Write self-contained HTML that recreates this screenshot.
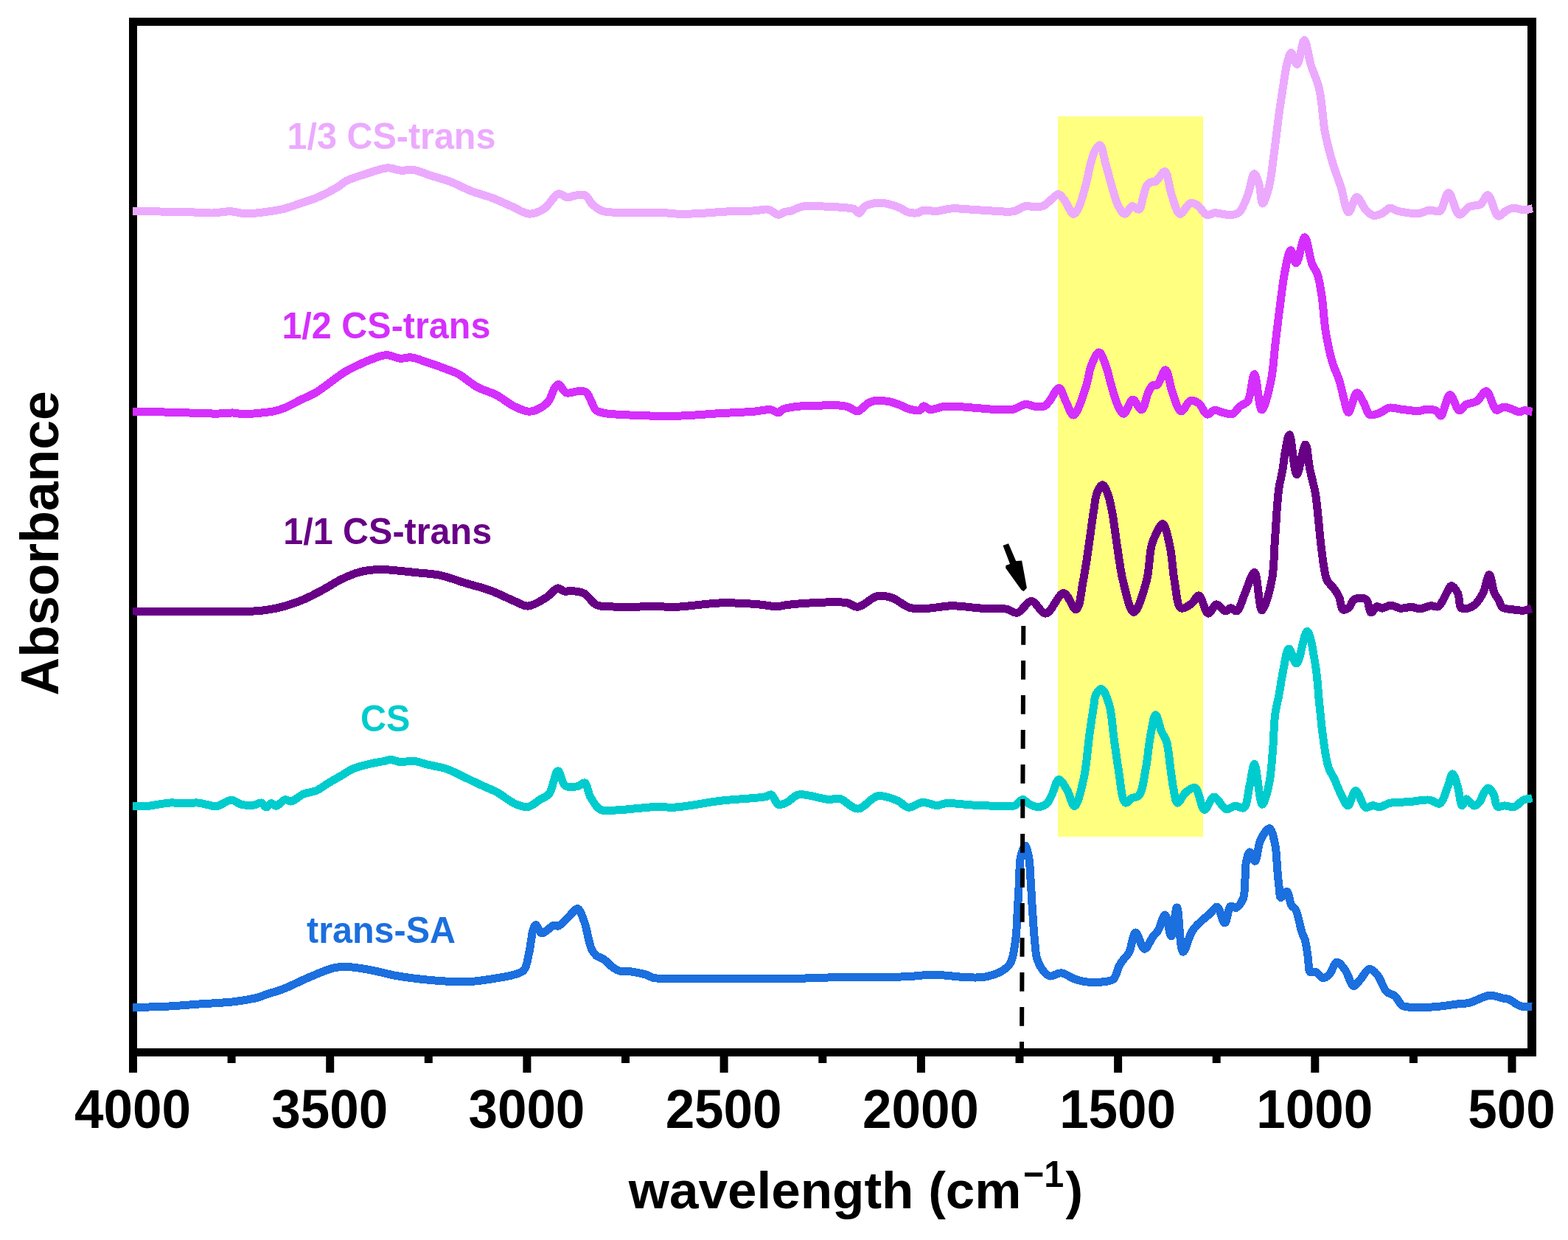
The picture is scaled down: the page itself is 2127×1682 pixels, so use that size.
<!DOCTYPE html>
<html><head><meta charset="utf-8"><title>FTIR spectra</title>
<style>html,body{margin:0;padding:0;background:#fff;}svg{display:block;}</style>
</head><body>
<svg width="2127" height="1682" viewBox="0 0 2127 1682">
<rect x="0" y="0" width="2127" height="1682" fill="#ffffff"/>
<rect x="1435" y="158" width="197" height="977" fill="#FFFF80"/>
<rect x="175" y="24" width="11" height="1431" fill="#000"/>
<rect x="175" y="24" width="1909" height="11" fill="#000"/>
<rect x="2072" y="24" width="12" height="1409" fill="#000"/>
<rect x="175" y="1422" width="1909" height="11" fill="#000"/>
<path fill="none" stroke="#ECAAFE" stroke-width="11" stroke-linejoin="round" stroke-linecap="butt" shape-rendering="crispEdges" d="M180.0,286.4 C192.3,286.6 204.8,286.8 217.0,287.0 C229.0,287.2 240.8,287.2 252.6,287.5 C264.4,287.8 277.0,289.2 287.8,289.0 C297.0,288.8 305.6,286.5 313.2,286.8 C319.4,287.0 325.1,289.2 330.0,289.6 C333.7,289.9 336.2,289.8 340.0,289.6 C345.1,289.3 351.5,288.7 358.0,287.8 C365.8,286.8 375.4,285.6 383.7,283.6 C391.9,281.6 400.0,278.4 407.7,275.8 C415.0,273.4 421.4,271.6 428.9,268.5 C437.7,264.8 449.5,258.8 457.0,254.4 C462.3,251.3 464.6,248.2 470.0,245.4 C477.4,241.6 488.7,238.2 498.2,235.3 C507.5,232.4 518.2,228.1 526.4,227.8 C532.7,227.6 537.5,230.7 543.3,231.2 C549.3,231.7 555.4,229.7 561.7,230.6 C568.6,231.6 575.2,235.2 582.8,237.7 C591.5,240.5 601.7,243.0 611.0,246.5 C620.5,250.1 629.8,255.5 639.3,259.2 C648.6,262.8 658.2,264.9 667.5,268.4 C677.0,272.0 686.8,276.9 695.7,280.7 C703.6,284.1 710.9,289.9 718.2,290.1 C725.0,290.3 731.8,287.1 738.0,283.2 C745.2,278.6 751.5,264.3 757.7,263.0 C762.0,262.1 766.2,267.8 770.0,268.0 C773.1,268.2 775.4,265.9 778.8,265.4 C783.1,264.7 789.8,263.1 793.9,265.0 C798.0,266.9 799.6,273.5 803.3,277.0 C807.1,280.5 811.4,284.0 816.4,285.9 C821.9,288.0 827.0,287.8 835.2,288.3 C850.5,289.3 885.7,288.0 901.0,288.7 C909.2,289.1 913.0,290.0 919.9,290.2 C928.3,290.4 938.0,290.1 948.0,289.6 C959.7,289.1 973.1,287.6 985.7,287.0 C998.2,286.4 1012.9,286.5 1023.3,285.9 C1030.6,285.5 1036.3,283.1 1042.0,284.2 C1047.2,285.2 1052.1,291.2 1056.2,291.3 C1059.4,291.4 1061.9,288.2 1064.7,287.4 C1067.2,286.7 1069.3,287.1 1072.2,286.4 C1076.7,285.2 1082.5,281.2 1089.0,280.0 C1097.1,278.5 1107.9,279.7 1117.3,280.0 C1126.7,280.3 1137.9,280.9 1145.5,281.7 C1150.7,282.2 1155.0,282.1 1158.5,283.6 C1161.4,284.9 1163.3,289.4 1165.5,289.2 C1168.0,288.9 1169.3,282.6 1172.6,280.4 C1176.7,277.6 1184.1,275.9 1189.5,275.3 C1194.4,274.8 1198.7,275.4 1203.6,276.4 C1209.0,277.5 1215.5,279.7 1220.5,281.8 C1224.7,283.6 1227.7,286.7 1231.8,287.8 C1236.1,289.0 1242.3,289.3 1245.9,288.5 C1248.3,287.9 1249.0,285.9 1251.6,285.3 C1255.9,284.3 1263.6,286.7 1269.9,286.4 C1276.7,286.0 1283.4,283.3 1291.0,282.9 C1299.7,282.4 1309.9,283.8 1319.3,284.3 C1328.7,284.8 1338.1,285.7 1347.5,286.1 C1356.9,286.5 1368.1,288.2 1375.7,286.6 C1381.4,285.4 1385.0,281.0 1389.8,280.0 C1394.4,279.1 1399.5,280.6 1403.9,280.5 C1407.9,280.4 1411.8,280.8 1415.2,279.4 C1418.8,277.9 1421.6,274.2 1425.0,271.6 C1428.5,268.9 1432.7,263.3 1436.0,263.6 C1439.0,263.8 1441.3,268.3 1444.1,271.7 C1448.0,276.5 1452.5,290.1 1456.1,290.3 C1458.6,290.5 1460.8,285.9 1463.0,282.0 C1466.8,275.1 1470.2,260.8 1473.0,250.5 C1475.6,240.9 1477.1,230.5 1479.4,222.3 C1481.2,215.8 1482.5,209.5 1485.0,205.0 C1486.9,201.5 1489.9,196.4 1492.0,196.8 C1495.3,197.5 1497.3,213.6 1499.8,222.3 C1502.5,231.4 1504.8,241.1 1507.6,250.5 C1510.4,259.9 1512.9,271.6 1516.7,278.7 C1519.4,283.7 1522.7,290.1 1525.9,290.2 C1529.1,290.3 1532.3,280.3 1535.8,279.7 C1538.7,279.2 1542.6,285.2 1545.0,284.2 C1548.3,282.8 1549.1,271.8 1551.0,266.0 C1552.7,260.8 1553.6,254.2 1556.0,251.0 C1557.6,248.8 1560.0,247.7 1562.0,247.0 C1563.7,246.4 1565.4,247.3 1567.0,246.5 C1569.1,245.4 1570.9,242.2 1573.0,240.0 C1575.3,237.6 1578.0,232.0 1580.2,232.5 C1584.1,233.5 1585.8,254.6 1589.4,264.6 C1592.7,273.7 1596.0,289.4 1600.7,290.2 C1604.7,290.9 1610.2,276.7 1614.8,275.5 C1618.1,274.7 1621.4,276.6 1624.6,278.6 C1628.9,281.3 1633.0,290.6 1637.3,291.8 C1640.5,292.7 1643.2,289.2 1647.2,288.9 C1653.2,288.4 1663.6,292.2 1669.8,291.6 C1674.2,291.2 1677.7,290.7 1681.0,287.9 C1685.9,283.7 1689.3,272.9 1692.6,264.6 C1696.2,255.6 1698.5,235.8 1701.5,235.6 C1703.7,235.5 1706.3,244.7 1708.1,250.5 C1710.3,257.8 1710.5,275.9 1712.8,276.1 C1715.0,276.3 1719.1,262.2 1721.5,253.2 C1724.7,240.9 1726.0,224.5 1728.2,208.6 C1730.7,190.2 1734.0,161.1 1735.7,149.2 C1736.4,144.0 1736.7,142.6 1737.4,138.1 C1738.5,131.1 1740.1,120.0 1741.5,111.3 C1742.8,103.2 1743.7,94.7 1745.6,87.6 C1747.2,81.6 1749.2,71.6 1751.5,71.5 C1753.8,71.4 1757.0,87.5 1759.5,87.3 C1763.0,87.0 1766.2,54.3 1769.3,54.4 C1772.4,54.5 1775.4,79.4 1778.0,87.6 C1779.6,92.6 1780.8,95.1 1782.4,99.5 C1784.3,104.8 1787.2,111.1 1788.8,117.3 C1790.5,123.9 1791.2,130.0 1792.4,138.1 C1794.1,149.4 1794.7,165.1 1797.3,178.9 C1800.0,193.5 1804.5,210.1 1808.5,223.4 C1811.8,234.4 1815.5,242.9 1818.9,253.2 C1822.5,264.3 1825.2,287.4 1829.3,287.8 C1832.6,288.1 1836.4,267.8 1840.4,267.6 C1844.3,267.4 1848.6,280.8 1853.0,285.1 C1856.4,288.4 1859.7,291.9 1863.4,292.5 C1867.1,293.1 1871.6,290.8 1875.3,289.1 C1879.0,287.4 1882.3,282.5 1885.7,282.1 C1888.7,281.8 1891.3,284.8 1894.8,285.8 C1899.1,287.1 1904.6,288.0 1909.6,288.7 C1914.5,289.3 1919.5,290.3 1924.4,289.7 C1929.4,289.1 1934.3,285.5 1939.2,285.0 C1943.8,284.5 1949.1,288.6 1953.0,286.5 C1958.4,283.5 1960.7,261.7 1964.9,261.7 C1969.5,261.7 1974.0,289.8 1979.7,291.1 C1983.9,292.0 1988.5,282.6 1993.5,280.3 C1998.1,278.1 2004.2,279.6 2008.3,277.1 C2012.5,274.5 2014.9,264.3 2018.2,264.6 C2022.9,265.1 2027.3,291.7 2032.5,293.1 C2035.8,294.0 2039.4,287.9 2042.9,286.0 C2046.1,284.3 2049.1,282.5 2052.8,282.2 C2057.2,281.8 2063.0,285.0 2067.6,285.0 C2071.6,285.0 2075.1,283.5 2078.9,282.7"/>
<path fill="none" stroke="#D52FFD" stroke-width="11" stroke-linejoin="round" stroke-linecap="butt" shape-rendering="crispEdges" d="M180.2,558.6 C192.6,558.7 204.5,558.7 217.3,558.9 C230.9,559.1 246.1,559.7 259.6,560.1 C271.9,560.4 284.6,561.2 294.9,561.1 C302.8,561.0 309.7,559.8 316.0,560.0 C321.2,560.2 324.9,561.7 330.1,561.8 C336.4,562.0 344.2,561.0 351.3,560.3 C358.4,559.6 366.2,559.0 372.5,557.6 C377.7,556.4 381.5,555.2 386.6,553.1 C393.0,550.5 400.6,546.0 407.7,542.5 C414.7,539.0 421.5,536.6 428.9,532.2 C437.9,526.8 449.5,517.1 457.1,511.8 C462.2,508.3 465.3,505.9 470.0,503.2 C475.2,500.2 481.2,497.3 486.9,494.7 C492.5,492.1 497.9,489.5 503.9,487.4 C510.3,485.1 517.6,481.8 524.2,481.7 C530.5,481.6 536.9,485.7 542.8,486.2 C548.1,486.6 552.5,484.3 558.0,484.9 C564.7,485.6 572.4,489.2 580.0,491.7 C588.2,494.4 597.8,497.7 605.4,500.6 C611.6,503.0 616.3,504.4 622.3,507.7 C630.1,512.0 639.0,520.5 647.7,525.2 C655.9,529.7 664.8,531.4 673.1,535.7 C681.8,540.2 690.3,547.9 698.5,551.7 C705.4,554.9 712.2,558.5 718.8,558.2 C725.2,558.0 732.8,553.7 737.4,550.6 C740.8,548.4 742.8,546.3 745.0,543.0 C747.8,538.8 749.4,530.8 752.0,527.0 C753.8,524.4 755.6,521.3 757.7,521.4 C760.7,521.5 763.7,531.2 767.9,532.8 C772.1,534.4 778.3,531.0 783.1,530.9 C787.3,530.8 791.9,529.9 795.0,531.9 C798.3,534.0 799.6,539.7 801.8,543.8 C804.1,547.9 805.3,553.7 808.5,556.5 C811.5,559.0 815.1,559.4 820.0,560.4 C828.2,562.1 840.7,562.4 853.9,563.0 C872.6,563.9 900.7,564.6 921.6,564.1 C939.7,563.7 955.4,561.9 972.3,560.9 C989.2,559.9 1009.7,559.3 1023.1,558.2 C1032.0,557.5 1039.1,555.0 1045.1,555.7 C1049.5,556.2 1053.1,560.2 1056.1,559.7 C1058.5,559.3 1059.2,556.4 1062.0,555.2 C1066.6,553.1 1075.2,552.1 1082.4,551.3 C1090.3,550.4 1099.0,550.5 1107.7,550.3 C1117.0,550.0 1128.7,549.3 1136.5,549.8 C1141.9,550.1 1145.6,550.5 1150.0,551.8 C1154.6,553.1 1159.2,558.2 1163.6,557.7 C1168.3,557.1 1172.7,549.8 1177.0,547.4 C1180.4,545.5 1183.0,544.1 1186.9,543.5 C1192.0,542.7 1199.6,543.6 1205.3,544.6 C1210.4,545.5 1214.7,547.1 1219.4,548.8 C1224.2,550.5 1228.7,553.6 1233.5,554.9 C1238.1,556.1 1244.2,557.8 1247.6,556.6 C1250.2,555.7 1251.0,551.1 1253.2,550.8 C1255.6,550.4 1258.2,555.1 1261.7,555.6 C1266.5,556.3 1274.0,552.3 1280.0,551.6 C1285.7,550.9 1290.6,551.2 1296.9,551.4 C1305.1,551.7 1315.7,552.8 1325.1,553.5 C1334.5,554.2 1344.7,555.4 1353.4,555.6 C1360.9,555.8 1368.0,556.5 1374.5,555.2 C1380.6,553.9 1386.3,548.7 1391.4,548.3 C1395.5,548.0 1398.7,550.6 1402.7,551.1 C1407.1,551.6 1413.1,552.6 1416.8,551.0 C1419.9,549.7 1421.3,546.7 1423.9,543.6 C1427.6,539.2 1432.9,526.2 1436.6,526.5 C1440.3,526.8 1442.7,538.9 1446.0,545.0 C1449.3,551.1 1452.6,563.3 1456.2,563.1 C1461.4,562.8 1469.0,536.6 1473.1,524.6 C1476.5,514.6 1476.9,504.6 1480.2,496.4 C1483.0,489.4 1487.4,477.8 1490.8,477.9 C1494.1,478.0 1497.5,489.4 1500.2,496.4 C1503.4,504.7 1505.1,515.2 1508.0,524.6 C1510.9,534.0 1514.0,546.4 1517.6,552.8 C1519.8,556.7 1522.1,561.4 1524.6,561.2 C1528.2,561.0 1532.4,542.4 1536.6,542.1 C1540.4,541.8 1545.2,556.4 1548.6,555.8 C1552.6,555.1 1554.7,537.7 1557.8,531.7 C1559.9,527.7 1561.7,523.8 1564.1,522.4 C1565.8,521.4 1567.9,523.3 1569.8,522.1 C1573.6,519.7 1577.8,501.6 1581.0,501.9 C1584.8,502.3 1586.6,522.2 1590.2,531.7 C1593.7,540.8 1597.5,557.2 1602.2,557.9 C1606.0,558.5 1610.4,544.7 1614.9,543.5 C1618.5,542.5 1622.8,544.8 1626.2,547.2 C1630.5,550.3 1633.5,561.3 1637.5,562.1 C1640.6,562.7 1643.8,556.9 1647.3,556.4 C1650.8,555.9 1654.7,558.6 1658.6,559.5 C1662.7,560.4 1667.5,562.8 1671.3,561.6 C1675.5,560.3 1678.8,553.7 1682.6,550.7 C1685.9,548.1 1689.8,548.2 1692.5,544.4 C1697.4,537.6 1698.6,507.5 1701.6,507.6 C1705.0,507.7 1707.6,555.7 1711.6,555.9 C1715.2,556.1 1721.1,530.6 1724.1,516.5 C1727.4,501.0 1728.0,483.2 1730.0,466.5 C1732.0,449.9 1733.9,433.2 1736.1,416.6 C1738.3,399.9 1740.4,380.6 1743.3,366.6 C1745.5,356.1 1748.0,339.8 1750.8,339.6 C1753.1,339.4 1755.7,357.0 1758.3,356.9 C1762.0,356.7 1766.3,321.6 1769.9,321.7 C1773.5,321.8 1776.3,349.3 1779.9,358.3 C1782.1,364.0 1785.0,366.2 1786.9,371.6 C1789.6,379.1 1791.1,389.1 1792.8,399.9 C1795.1,414.2 1795.7,434.1 1798.3,449.9 C1800.7,464.5 1803.8,479.5 1807.4,491.5 C1810.2,501.0 1814.3,508.1 1816.9,516.5 C1819.5,524.8 1821.0,533.9 1823.2,541.5 C1825.1,548.0 1826.6,559.2 1829.1,559.3 C1832.2,559.4 1836.7,533.2 1840.7,532.8 C1843.7,532.5 1847.0,541.7 1849.9,546.5 C1852.9,551.6 1854.2,560.6 1858.2,562.6 C1861.7,564.3 1867.2,561.6 1871.5,560.1 C1876.1,558.5 1880.1,553.9 1884.8,553.1 C1889.5,552.3 1894.1,554.4 1899.7,555.0 C1906.9,555.8 1918.0,557.9 1924.4,557.5 C1928.5,557.3 1930.7,555.4 1934.3,555.3 C1938.7,555.2 1945.6,555.7 1949.1,557.7 C1951.7,559.2 1952.6,564.4 1954.5,564.1 C1958.2,563.6 1962.4,535.9 1966.9,535.6 C1970.9,535.3 1975.4,556.3 1979.7,556.9 C1982.7,557.3 1985.0,551.0 1988.6,548.9 C1992.7,546.5 1999.0,546.9 2003.4,544.1 C2008.2,541.1 2012.2,530.2 2016.2,530.7 C2021.2,531.4 2024.9,554.4 2030.0,556.2 C2033.1,557.3 2036.3,552.2 2039.9,552.0 C2043.9,551.8 2049.0,554.5 2052.8,555.8 C2055.8,556.8 2058.1,558.8 2060.7,558.9 C2063.1,559.0 2065.0,557.0 2067.6,556.8 C2070.8,556.6 2074.8,557.9 2078.4,558.5"/>
<path fill="none" stroke="#680086" stroke-width="11" stroke-linejoin="round" stroke-linecap="butt" shape-rendering="crispEdges" d="M180.1,829.0 C206.6,829.1 232.7,829.4 259.6,829.4 C287.4,829.4 326.9,829.8 344.3,829.0 C352.1,828.6 355.0,828.4 361.2,827.5 C368.8,826.4 378.2,824.5 386.6,822.1 C395.1,819.7 403.6,816.7 412.0,813.1 C420.6,809.5 429.0,804.9 437.4,800.4 C445.9,795.9 454.1,790.1 462.7,786.0 C471.0,782.0 479.5,778.2 488.1,775.9 C496.4,773.7 505.9,772.8 513.5,772.5 C519.6,772.2 523.5,772.7 530.0,773.2 C539.3,773.9 552.6,775.4 563.9,776.6 C575.2,777.8 586.5,778.1 597.7,780.5 C609.1,782.9 620.3,787.6 631.6,791.0 C642.9,794.4 654.3,797.0 665.4,801.1 C676.8,805.3 689.9,812.2 699.3,816.0 C705.9,818.6 710.1,822.4 716.2,822.1 C723.9,821.7 734.4,814.6 741.6,810.1 C747.6,806.3 752.4,798.3 756.8,797.8 C759.8,797.5 762.0,801.3 765.0,802.0 C768.2,802.7 771.5,801.3 775.4,801.6 C780.4,802.0 787.1,802.3 792.4,805.0 C798.5,808.1 802.5,817.5 809.3,820.6 C816.5,823.8 825.6,822.7 834.7,823.1 C845.2,823.6 860.2,823.3 868.5,823.0 C873.3,822.8 875.1,822.2 880.0,822.1 C888.8,821.9 902.9,823.7 916.7,823.3 C934.5,822.8 958.6,818.4 977.8,817.9 C995.0,817.4 1012.7,818.6 1026.7,819.6 C1037.4,820.4 1047.6,823.0 1054.8,822.8 C1059.3,822.6 1061.1,821.4 1065.8,820.8 C1074.0,819.7 1087.6,818.5 1100.0,817.9 C1114.8,817.2 1137.5,815.6 1148.9,817.7 C1155.4,818.9 1158.1,823.7 1163.6,823.3 C1171.3,822.8 1182.0,810.0 1190.5,808.4 C1197.3,807.1 1203.4,808.8 1210.1,811.0 C1218.0,813.6 1226.1,822.2 1234.5,824.5 C1242.4,826.7 1250.3,825.5 1259.0,825.2 C1268.9,824.8 1279.5,821.9 1290.8,821.8 C1303.7,821.6 1319.2,824.5 1332.3,825.2 C1343.9,825.9 1356.7,824.6 1365.4,826.2 C1371.3,827.3 1374.9,832.1 1379.8,831.3 C1386.1,830.2 1392.8,815.5 1399.2,815.6 C1405.7,815.7 1412.1,832.6 1418.7,832.1 C1426.6,831.5 1435.6,804.4 1442.8,804.6 C1449.1,804.8 1455.5,827.7 1459.8,826.8 C1464.9,825.7 1466.5,802.2 1469.2,788.7 C1472.3,773.6 1474.5,756.6 1476.9,740.5 C1479.3,724.5 1481.5,705.7 1483.7,692.4 C1485.2,683.0 1485.6,674.5 1488.2,668.3 C1490.0,663.8 1493.1,657.7 1495.4,657.7 C1497.7,657.7 1500.1,663.6 1502.0,668.0 C1504.7,674.2 1506.3,682.8 1508.2,692.4 C1510.9,705.7 1512.9,724.5 1515.4,740.5 C1518.0,756.6 1519.6,773.4 1523.5,788.7 C1527.2,803.3 1532.7,830.3 1537.9,830.5 C1543.2,830.7 1551.1,803.4 1555.1,788.7 C1559.3,773.5 1559.0,752.1 1562.0,740.5 C1563.8,733.6 1565.4,729.5 1568.0,724.5 C1570.5,719.6 1574.4,710.3 1577.2,710.7 C1581.0,711.2 1584.3,729.2 1586.9,740.5 C1590.1,754.5 1590.5,773.8 1593.3,788.7 C1595.7,801.7 1596.5,822.1 1602.1,824.9 C1605.8,826.7 1612.5,821.4 1616.6,818.4 C1620.5,815.6 1623.1,807.4 1626.2,807.8 C1630.6,808.4 1634.4,831.5 1639.0,832.1 C1642.6,832.6 1646.3,820.2 1650.3,819.8 C1654.1,819.5 1658.7,828.7 1662.3,828.9 C1664.9,829.1 1667.0,824.8 1669.5,824.7 C1672.1,824.6 1675.1,829.8 1677.6,828.9 C1681.9,827.4 1685.0,813.1 1688.8,804.7 C1692.9,795.7 1698.0,776.1 1701.6,776.5 C1706.2,777.0 1707.7,827.8 1711.9,828.0 C1715.7,828.2 1722.4,801.2 1725.3,786.5 C1728.4,770.8 1728.0,753.2 1729.2,736.5 C1730.4,719.9 1731.4,700.4 1732.5,686.6 C1733.3,676.8 1733.8,669.9 1735.0,661.6 C1736.3,653.2 1738.6,645.0 1740.0,636.6 C1741.4,628.3 1742.0,619.6 1743.6,611.6 C1745.1,604.0 1747.1,589.6 1749.1,589.7 C1752.1,589.8 1755.2,643.4 1759.1,643.6 C1762.5,643.8 1767.8,602.8 1770.8,603.0 C1773.5,603.1 1774.6,625.4 1776.9,636.6 C1779.2,647.7 1782.5,658.7 1784.4,669.9 C1786.3,681.0 1787.1,692.1 1788.3,703.2 C1789.5,714.3 1790.3,725.4 1791.6,736.5 C1792.9,747.6 1794.4,760.6 1796.1,769.8 C1797.3,776.3 1797.5,781.6 1799.9,786.5 C1802.2,791.3 1807.0,794.9 1809.9,799.0 C1812.5,802.7 1814.7,805.8 1816.6,810.0 C1818.8,814.9 1818.6,825.3 1821.6,826.8 C1823.7,827.9 1827.5,825.9 1829.9,824.0 C1832.8,821.7 1833.5,814.9 1837.0,813.0 C1840.9,810.9 1849.2,810.4 1853.0,813.0 C1857.2,815.8 1857.0,830.4 1859.9,830.9 C1862.1,831.3 1864.6,823.5 1867.4,822.8 C1869.7,822.2 1872.1,825.1 1874.9,825.1 C1878.4,825.0 1882.5,821.2 1886.5,821.1 C1890.7,821.0 1895.1,824.8 1899.7,825.2 C1904.5,825.6 1909.9,823.2 1914.6,823.4 C1918.8,823.6 1922.3,825.9 1926.4,825.8 C1931.1,825.6 1936.7,822.1 1941.2,821.7 C1944.8,821.4 1948.1,824.2 1951.1,822.7 C1955.5,820.5 1959.1,809.5 1962.4,804.4 C1964.8,800.6 1966.4,794.8 1968.8,794.6 C1971.4,794.4 1975.2,800.2 1977.4,804.4 C1980.2,809.8 1978.6,822.5 1982.7,825.1 C1986.2,827.3 1993.9,824.8 1998.5,821.9 C2003.9,818.5 2008.3,811.1 2011.8,804.4 C2015.7,797.1 2017.6,779.5 2020.2,779.6 C2022.7,779.7 2024.4,798.2 2027.1,804.4 C2028.9,808.4 2031.2,810.6 2033.0,813.8 C2034.8,817.1 2035.2,821.7 2038.0,823.9 C2041.2,826.3 2047.0,826.1 2051.8,826.8 C2056.9,827.5 2063.0,828.6 2067.6,828.1 C2071.3,827.7 2074.1,826.2 2077.4,825.2"/>
<path fill="none" stroke="#00CCCD" stroke-width="11" stroke-linejoin="round" stroke-linecap="butt" shape-rendering="crispEdges" d="M180.1,1093.4 C186.9,1093.4 193.0,1093.8 200.4,1093.3 C209.6,1092.6 221.7,1089.4 230.9,1089.0 C238.3,1088.6 244.7,1089.9 251.2,1089.9 C257.1,1089.9 262.8,1088.6 268.1,1089.0 C272.9,1089.3 277.2,1090.8 281.6,1091.6 C285.7,1092.4 289.1,1094.3 293.5,1093.8 C299.5,1093.2 307.7,1085.3 313.8,1085.3 C318.8,1085.3 322.4,1090.0 327.3,1091.2 C332.5,1092.4 339.4,1092.7 344.3,1092.1 C348.2,1091.6 351.5,1088.4 354.4,1089.0 C357.1,1089.6 358.9,1094.9 361.2,1095.0 C363.4,1095.1 365.7,1089.8 368.0,1089.6 C370.2,1089.4 372.2,1093.4 374.7,1093.3 C378.2,1093.1 382.8,1085.5 386.6,1084.8 C389.5,1084.3 391.8,1087.4 395.0,1087.0 C399.8,1086.3 406.2,1079.3 412.0,1076.9 C417.5,1074.6 423.4,1074.9 428.9,1072.6 C434.7,1070.1 440.1,1065.4 445.8,1062.0 C451.4,1058.6 457.1,1055.5 462.7,1052.3 C468.4,1049.0 473.3,1045.2 479.7,1042.5 C487.1,1039.4 497.5,1037.2 505.1,1035.4 C511.3,1034.0 517.4,1033.2 522.0,1032.3 C525.2,1031.7 527.0,1030.5 530.0,1030.5 C533.9,1030.5 538.7,1033.4 543.5,1033.7 C548.8,1034.1 554.6,1031.7 560.5,1032.2 C567.0,1032.7 573.6,1035.6 580.8,1037.3 C588.8,1039.2 597.9,1040.3 606.2,1043.2 C614.8,1046.2 623.1,1051.0 631.6,1055.0 C640.0,1058.9 649.3,1063.4 656.9,1066.9 C663.1,1069.7 667.8,1071.2 673.9,1074.5 C681.7,1078.7 691.4,1087.3 699.3,1090.6 C705.3,1093.1 710.7,1095.4 716.2,1094.5 C722.0,1093.6 728.0,1087.5 733.1,1084.3 C737.4,1081.6 741.6,1080.9 745.0,1076.7 C750.2,1070.3 752.8,1046.0 756.8,1045.8 C760.1,1045.6 761.9,1062.8 767.0,1066.0 C771.4,1068.8 779.2,1067.5 783.9,1066.5 C787.6,1065.7 790.6,1060.9 793.2,1061.9 C796.8,1063.3 797.4,1074.9 800.8,1080.9 C804.4,1087.1 808.6,1095.2 814.4,1098.2 C820.0,1101.1 827.1,1099.2 834.7,1099.0 C844.5,1098.8 858.5,1097.0 868.5,1096.2 C876.5,1095.6 882.4,1094.7 890.0,1094.5 C898.4,1094.2 906.0,1095.7 916.7,1095.0 C932.9,1094.0 957.4,1088.6 977.8,1086.2 C998.1,1083.8 1028.5,1082.9 1038.9,1080.6 C1042.6,1079.8 1043.9,1077.3 1046.3,1078.0 C1049.7,1079.1 1052.0,1090.0 1056.0,1091.4 C1059.5,1092.6 1064.2,1089.8 1068.3,1087.9 C1073.1,1085.6 1076.4,1079.5 1082.9,1078.0 C1092.9,1075.8 1114.1,1084.1 1124.5,1084.5 C1130.6,1084.7 1133.9,1082.1 1139.2,1083.3 C1146.5,1084.9 1155.3,1097.3 1163.6,1097.1 C1172.4,1096.9 1181.2,1081.5 1190.5,1079.9 C1199.2,1078.4 1210.0,1082.9 1217.4,1086.0 C1223.3,1088.4 1226.7,1094.6 1232.1,1095.2 C1238.0,1095.9 1245.0,1088.8 1251.6,1088.4 C1258.1,1088.0 1265.4,1092.6 1271.2,1092.5 C1275.8,1092.4 1278.2,1090.0 1283.4,1089.6 C1292.3,1088.9 1307.9,1091.5 1320.1,1092.1 C1332.3,1092.7 1346.5,1093.3 1356.8,1093.3 C1364.3,1093.3 1371.0,1094.7 1376.3,1092.8 C1380.7,1091.2 1383.5,1084.7 1387.1,1084.6 C1390.4,1084.5 1393.4,1089.4 1396.9,1091.1 C1400.4,1092.8 1404.5,1094.7 1408.2,1094.6 C1412.0,1094.5 1416.5,1092.9 1419.5,1090.4 C1422.7,1087.8 1424.1,1083.6 1426.5,1079.1 C1429.7,1073.1 1432.6,1057.9 1436.4,1057.5 C1439.8,1057.1 1444.3,1066.6 1447.7,1072.1 C1451.5,1078.3 1454.3,1093.6 1457.6,1093.4 C1461.9,1093.2 1467.1,1069.3 1470.3,1055.1 C1474.1,1038.3 1475.2,1016.1 1477.6,998.7 C1479.7,983.6 1482.2,966.7 1483.9,956.4 C1484.9,950.4 1484.5,946.1 1486.5,942.3 C1488.2,939.0 1491.7,934.0 1494.2,934.4 C1497.9,935.0 1502.1,947.6 1504.8,956.4 C1508.3,968.0 1508.7,984.6 1510.7,998.7 C1512.7,1012.8 1514.3,1026.5 1516.8,1041.0 C1519.5,1056.6 1521.5,1087.2 1526.7,1089.1 C1529.1,1090.0 1532.1,1084.4 1535.1,1082.7 C1538.2,1081.0 1542.3,1082.1 1545.0,1079.0 C1550.3,1073.1 1551.9,1054.1 1554.5,1041.0 C1557.2,1027.3 1558.0,1011.4 1560.5,998.7 C1562.6,988.1 1564.9,969.8 1567.6,969.7 C1570.0,969.6 1572.7,985.3 1575.4,991.7 C1577.6,997.0 1580.5,999.9 1582.4,1005.8 C1585.2,1014.7 1586.0,1029.9 1587.6,1041.0 C1589.1,1050.9 1590.0,1060.8 1591.8,1069.3 C1593.3,1076.5 1594.3,1088.5 1597.2,1089.1 C1600.0,1089.7 1604.2,1078.3 1608.5,1074.9 C1612.3,1071.9 1617.5,1067.4 1621.2,1068.8 C1626.7,1070.9 1629.1,1097.8 1633.9,1098.3 C1637.8,1098.7 1641.8,1081.5 1646.6,1081.1 C1651.6,1080.7 1657.9,1096.4 1663.5,1097.6 C1667.7,1098.5 1671.9,1093.3 1676.0,1093.1 C1679.8,1092.9 1684.3,1097.7 1687.3,1095.9 C1692.2,1093.0 1692.8,1074.8 1695.3,1064.6 C1697.6,1055.0 1699.4,1036.5 1701.7,1036.5 C1704.9,1036.6 1708.3,1090.9 1712.2,1091.2 C1715.0,1091.4 1719.0,1074.9 1721.3,1064.6 C1724.3,1051.1 1725.2,1032.5 1726.6,1016.5 C1728.0,1000.5 1728.0,981.6 1729.8,968.4 C1731.1,958.9 1733.0,952.9 1734.6,944.3 C1736.5,934.4 1737.9,922.9 1740.2,912.2 C1742.5,901.4 1744.8,880.4 1748.3,880.0 C1751.2,879.7 1755.3,900.3 1758.7,900.0 C1763.6,899.6 1768.8,856.2 1773.1,856.4 C1777.5,856.6 1782.0,888.1 1784.7,904.2 C1787.4,920.1 1787.8,936.3 1789.5,952.3 C1791.2,968.4 1792.6,985.2 1794.8,1000.5 C1796.8,1014.5 1798.6,1030.4 1802.0,1040.6 C1804.2,1047.3 1807.2,1050.7 1810.0,1056.6 C1813.4,1063.8 1816.9,1074.2 1820.5,1080.7 C1823.1,1085.6 1825.8,1092.9 1828.5,1092.8 C1831.9,1092.6 1835.1,1072.7 1838.9,1072.6 C1843.0,1072.5 1847.6,1093.2 1852.6,1095.2 C1855.6,1096.4 1859.0,1092.8 1862.2,1092.7 C1865.4,1092.6 1868.4,1095.0 1871.8,1094.7 C1876.0,1094.3 1880.1,1090.5 1885.5,1089.3 C1892.7,1087.7 1902.5,1088.4 1911.4,1087.7 C1920.8,1087.0 1932.8,1084.0 1940.3,1085.2 C1945.4,1086.0 1949.2,1091.7 1952.7,1090.3 C1957.7,1088.4 1961.0,1073.8 1964.1,1066.5 C1966.6,1060.5 1968.1,1049.8 1970.3,1049.8 C1972.5,1049.8 1975.3,1060.2 1977.3,1066.5 C1979.8,1074.1 1980.7,1092.1 1983.3,1092.6 C1984.9,1092.9 1986.5,1084.3 1988.9,1083.9 C1991.8,1083.5 1996.4,1093.0 1999.8,1093.1 C2002.6,1093.2 2005.6,1089.8 2007.6,1087.2 C2009.8,1084.5 2010.3,1080.0 2012.2,1076.9 C2014.1,1073.9 2016.6,1068.9 2018.9,1068.9 C2021.2,1068.9 2024.0,1073.5 2025.9,1076.9 C2028.4,1081.4 2028.1,1092.0 2031.4,1094.1 C2033.8,1095.6 2037.3,1092.9 2040.7,1092.9 C2044.8,1092.9 2049.9,1095.6 2054.1,1094.5 C2058.6,1093.3 2062.2,1087.2 2066.5,1085.2 C2070.3,1083.4 2074.4,1083.5 2078.4,1082.6"/>
<path fill="none" stroke="#1B6FDE" stroke-width="11" stroke-linejoin="round" stroke-linecap="butt" shape-rendering="crispEdges" d="M179.9,1366.4 C193.9,1366.1 207.6,1366.1 222.0,1365.4 C237.2,1364.7 253.3,1363.2 269.0,1362.1 C284.7,1361.0 302.3,1360.4 316.0,1358.9 C326.7,1357.7 338.5,1355.6 344.3,1354.4 C346.9,1353.9 347.7,1353.7 350.0,1353.0 C353.5,1351.9 358.1,1350.0 363.0,1348.3 C369.1,1346.2 376.2,1344.6 383.9,1341.6 C393.9,1337.8 406.4,1331.2 417.7,1326.4 C428.9,1321.7 442.1,1315.5 451.6,1313.2 C458.1,1311.6 461.9,1311.2 468.5,1311.3 C477.8,1311.4 491.1,1313.7 502.3,1315.7 C513.6,1317.7 524.9,1321.2 536.2,1323.3 C547.4,1325.4 558.7,1326.8 570.0,1328.1 C581.3,1329.4 592.6,1330.4 603.9,1331.0 C615.2,1331.6 626.4,1332.1 637.7,1331.5 C649.0,1330.9 661.1,1328.9 671.6,1327.2 C680.7,1325.7 689.9,1324.5 697.0,1322.2 C702.4,1320.4 707.3,1319.7 710.7,1315.8 C714.9,1311.0 715.9,1300.5 717.6,1293.1 C719.2,1286.1 720.0,1278.1 721.0,1272.4 C721.7,1268.4 721.8,1265.2 722.8,1262.1 C723.7,1259.3 725.1,1254.7 726.7,1254.6 C728.8,1254.5 731.4,1265.2 734.5,1265.9 C737.2,1266.5 740.9,1262.4 743.8,1260.5 C746.4,1258.8 748.6,1255.8 751.0,1255.2 C753.0,1254.7 755.0,1256.7 757.2,1256.1 C760.4,1255.2 764.2,1250.7 767.6,1247.6 C771.2,1244.3 774.9,1239.4 777.9,1236.7 C780.0,1234.9 781.7,1232.1 783.6,1232.6 C786.9,1233.4 790.7,1245.1 793.1,1251.7 C795.5,1258.3 796.4,1266.0 798.1,1272.4 C799.6,1278.0 800.6,1283.7 802.7,1287.9 C804.4,1291.3 806.2,1294.0 808.9,1296.2 C811.7,1298.5 816.0,1299.1 819.3,1301.4 C822.9,1303.9 826.0,1308.3 829.6,1310.9 C832.9,1313.3 836.0,1315.7 840.0,1316.9 C844.5,1318.3 850.0,1317.2 855.5,1317.9 C861.9,1318.8 870.6,1320.4 876.2,1322.1 C880.3,1323.4 882.3,1325.5 886.5,1326.4 C892.6,1327.8 899.8,1327.2 910.0,1327.4 C929.4,1327.9 967.2,1327.7 994.0,1327.8 C1018.6,1327.9 1041.1,1328.2 1064.6,1327.8 C1088.1,1327.4 1109.8,1326.2 1135.0,1325.7 C1164.1,1325.1 1204.8,1325.8 1229.1,1324.8 C1244.5,1324.2 1253.6,1322.1 1266.7,1322.2 C1281.0,1322.3 1298.9,1325.3 1311.4,1325.7 C1320.5,1326.0 1327.2,1326.6 1334.9,1325.3 C1342.8,1323.9 1352.1,1321.1 1358.4,1317.5 C1363.5,1314.5 1367.4,1311.9 1370.5,1306.6 C1374.9,1299.1 1376.1,1285.4 1377.7,1273.9 C1379.5,1261.5 1379.5,1247.7 1380.3,1234.6 C1381.1,1221.5 1381.8,1207.9 1382.5,1195.4 C1383.2,1184.0 1382.5,1171.5 1384.5,1162.7 C1385.9,1156.4 1388.8,1146.9 1390.7,1147.0 C1392.5,1147.1 1394.4,1156.4 1395.6,1162.7 C1397.3,1171.5 1397.4,1184.0 1398.2,1195.4 C1399.1,1207.9 1399.6,1221.5 1400.5,1234.6 C1401.4,1247.7 1402.2,1262.1 1403.4,1273.9 C1404.4,1283.5 1404.4,1292.5 1406.7,1300.0 C1408.6,1306.3 1411.6,1312.2 1414.9,1316.4 C1417.6,1319.8 1420.4,1323.2 1424.1,1324.0 C1428.4,1325.0 1434.4,1319.4 1439.8,1319.9 C1445.8,1320.4 1451.8,1326.1 1458.1,1328.2 C1464.4,1330.3 1471.1,1331.8 1477.7,1332.4 C1484.2,1333.0 1491.5,1332.6 1497.3,1331.7 C1502.2,1331.0 1507.0,1331.1 1510.4,1328.2 C1514.5,1324.7 1515.7,1314.7 1518.3,1309.9 C1520.1,1306.6 1521.5,1304.7 1523.5,1302.0 C1525.8,1298.9 1529.0,1296.6 1531.4,1292.2 C1535.0,1285.6 1536.8,1265.3 1540.5,1265.0 C1543.9,1264.7 1548.3,1287.0 1552.4,1287.2 C1556.1,1287.4 1560.4,1275.4 1563.8,1270.8 C1566.4,1267.4 1568.7,1265.8 1571.0,1262.0 C1574.3,1256.7 1577.6,1240.8 1580.4,1241.0 C1583.6,1241.2 1586.3,1269.9 1588.8,1269.8 C1591.7,1269.7 1594.1,1230.8 1596.5,1230.9 C1599.5,1231.0 1600.2,1290.6 1604.8,1291.2 C1608.1,1291.7 1612.5,1270.2 1617.3,1262.8 C1620.9,1257.2 1625.1,1253.7 1629.2,1249.7 C1633.0,1246.0 1637.3,1242.9 1641.1,1239.6 C1644.6,1236.5 1648.2,1229.7 1651.2,1230.3 C1655.2,1231.1 1658.2,1252.1 1661.3,1252.0 C1664.4,1251.9 1665.8,1231.0 1669.6,1229.1 C1671.7,1228.1 1674.5,1232.0 1676.8,1231.3 C1680.1,1230.2 1684.0,1224.8 1686.3,1218.8 C1690.4,1208.1 1688.0,1180.7 1690.4,1169.5 C1691.7,1163.4 1693.2,1156.1 1695.2,1155.9 C1697.2,1155.7 1700.2,1168.4 1702.3,1168.1 C1705.4,1167.7 1706.2,1147.0 1710.1,1139.1 C1713.2,1132.8 1718.8,1123.1 1722.0,1123.6 C1725.5,1124.2 1727.9,1137.3 1729.7,1145.7 C1731.9,1156.1 1731.9,1170.7 1732.9,1181.4 C1733.7,1190.1 1734.4,1198.5 1735.3,1205.1 C1736.0,1209.9 1735.6,1216.9 1737.4,1217.5 C1739.2,1218.1 1743.6,1208.9 1745.8,1209.5 C1748.7,1210.2 1749.2,1223.3 1751.7,1227.7 C1753.4,1230.7 1755.9,1231.0 1757.7,1234.3 C1761.1,1240.5 1763.5,1257.1 1766.0,1264.6 C1767.6,1269.2 1769.1,1271.0 1770.4,1275.5 C1772.2,1282.0 1773.3,1292.7 1774.5,1300.3 C1775.5,1306.8 1774.4,1316.1 1777.1,1318.5 C1778.9,1320.0 1782.2,1317.6 1784.8,1318.5 C1788.1,1319.7 1791.6,1326.4 1794.9,1326.6 C1797.8,1326.8 1800.7,1324.2 1803.4,1321.6 C1807.1,1317.9 1809.7,1305.6 1813.5,1305.1 C1817.0,1304.7 1821.7,1311.9 1825.2,1316.6 C1829.4,1322.3 1832.1,1336.8 1836.0,1337.5 C1838.9,1338.0 1842.1,1332.0 1845.3,1328.6 C1849.2,1324.5 1853.5,1314.8 1857.7,1314.4 C1861.3,1314.0 1865.2,1318.9 1868.6,1322.8 C1873.2,1328.2 1876.2,1340.7 1881.0,1345.3 C1884.3,1348.5 1888.5,1348.1 1891.9,1350.8 C1895.9,1354.0 1898.4,1361.8 1902.7,1364.3 C1906.4,1366.4 1910.1,1365.9 1915.2,1366.3 C1923.2,1366.9 1935.9,1366.5 1946.2,1365.8 C1956.6,1365.1 1968.6,1362.9 1977.2,1361.9 C1983.2,1361.2 1986.9,1361.7 1992.7,1360.4 C2000.8,1358.6 2012.2,1350.9 2020.7,1350.3 C2027.5,1349.8 2034.4,1353.2 2039.3,1354.2 C2042.4,1354.8 2044.1,1354.6 2047.0,1355.7 C2051.4,1357.3 2057.2,1363.1 2062.6,1364.7 C2067.6,1366.2 2072.9,1365.4 2078.1,1365.8"/>
<rect x="442.2" y="1433" width="11" height="22" fill="#000"/>
<rect x="709.4" y="1433" width="11" height="22" fill="#000"/>
<rect x="976.6" y="1433" width="11" height="22" fill="#000"/>
<rect x="1243.9" y="1433" width="11" height="22" fill="#000"/>
<rect x="1511.1" y="1433" width="11" height="22" fill="#000"/>
<rect x="1778.3" y="1433" width="11" height="22" fill="#000"/>
<rect x="2045.5" y="1433" width="11" height="22" fill="#000"/>
<rect x="308.6" y="1433" width="11" height="9" fill="#000"/>
<rect x="575.8" y="1433" width="11" height="9" fill="#000"/>
<rect x="843.0" y="1433" width="11" height="9" fill="#000"/>
<rect x="1110.3" y="1433" width="11" height="9" fill="#000"/>
<rect x="1377.5" y="1433" width="11" height="9" fill="#000"/>
<rect x="1644.7" y="1433" width="11" height="9" fill="#000"/>
<rect x="1911.9" y="1433" width="11" height="9" fill="#000"/>
<line x1="1388.3" y1="849" x2="1386" y2="1422" stroke="#000" stroke-width="6" stroke-dasharray="25.7 21.3"/>
<polygon fill="#000" points="1360.5,740 1368,737.3 1378.2,761 1386.1,760.5 1392.9,797.5 1388.7,801.9 1385.5,800.3 1364.1,770.5 1364.5,767 1370,764.9"/>
<text transform="translate(180.0,1530.3) scale(1,1.04)" font-family="'Liberation Sans', Arial, Helvetica, sans-serif" font-weight="bold" font-size="71" text-anchor="middle" fill="#000">4000</text>
<text transform="translate(447.2,1530.3) scale(1,1.04)" font-family="'Liberation Sans', Arial, Helvetica, sans-serif" font-weight="bold" font-size="71" text-anchor="middle" fill="#000">3500</text>
<text transform="translate(714.4,1530.3) scale(1,1.04)" font-family="'Liberation Sans', Arial, Helvetica, sans-serif" font-weight="bold" font-size="71" text-anchor="middle" fill="#000">3000</text>
<text transform="translate(981.6,1530.3) scale(1,1.04)" font-family="'Liberation Sans', Arial, Helvetica, sans-serif" font-weight="bold" font-size="71" text-anchor="middle" fill="#000">2500</text>
<text transform="translate(1248.9,1530.3) scale(1,1.04)" font-family="'Liberation Sans', Arial, Helvetica, sans-serif" font-weight="bold" font-size="71" text-anchor="middle" fill="#000">2000</text>
<text transform="translate(1516.1,1530.3) scale(1,1.04)" font-family="'Liberation Sans', Arial, Helvetica, sans-serif" font-weight="bold" font-size="71" text-anchor="middle" fill="#000">1500</text>
<text transform="translate(1783.3,1530.3) scale(1,1.04)" font-family="'Liberation Sans', Arial, Helvetica, sans-serif" font-weight="bold" font-size="71" text-anchor="middle" fill="#000">1000</text>
<text transform="translate(2050.5,1530.3) scale(1,1.04)" font-family="'Liberation Sans', Arial, Helvetica, sans-serif" font-weight="bold" font-size="71" text-anchor="middle" fill="#000">500</text>
<text transform="translate(852.8,1638.8) scale(1,1.0)" font-family="'Liberation Sans', Arial, Helvetica, sans-serif" font-weight="bold" font-size="71" fill="#000">wavelength (cm</text>
<text transform="translate(1388,1610) scale(1,1.04)" font-family="'Liberation Sans', Arial, Helvetica, sans-serif" font-weight="bold" font-size="48.5" fill="#000">−1</text>
<text transform="translate(1445.5,1638.8)" font-family="'Liberation Sans', Arial, Helvetica, sans-serif" font-weight="bold" font-size="71" fill="#000">)</text>
<text transform="translate(79.3,736.8) rotate(-90)" font-family="'Liberation Sans', Arial, Helvetica, sans-serif" font-weight="bold" font-size="71.5" text-anchor="middle" fill="#000">Absorbance</text>
<text transform="translate(389.5,201.7) scale(1,1.035)" font-family="'Liberation Sans', Arial, Helvetica, sans-serif" font-weight="bold" font-size="48.5" fill="#ECAAFE">1/3 CS-trans</text>
<text transform="translate(382.4,458.8) scale(1,1.035)" font-family="'Liberation Sans', Arial, Helvetica, sans-serif" font-weight="bold" font-size="48.5" fill="#D52FFD">1/2 CS-trans</text>
<text transform="translate(384.2,738.1) scale(1,1.035)" font-family="'Liberation Sans', Arial, Helvetica, sans-serif" font-weight="bold" font-size="48.5" fill="#680086">1/1 CS-trans</text>
<text transform="translate(489.0,992.2) scale(1,1.035)" font-family="'Liberation Sans', Arial, Helvetica, sans-serif" font-weight="bold" font-size="48.5" fill="#00CCCD">CS</text>
<text transform="translate(416.0,1278.7) scale(1,1.035)" font-family="'Liberation Sans', Arial, Helvetica, sans-serif" font-weight="bold" font-size="48.5" fill="#1B6FDE">trans-SA</text>
</svg>
</body></html>
